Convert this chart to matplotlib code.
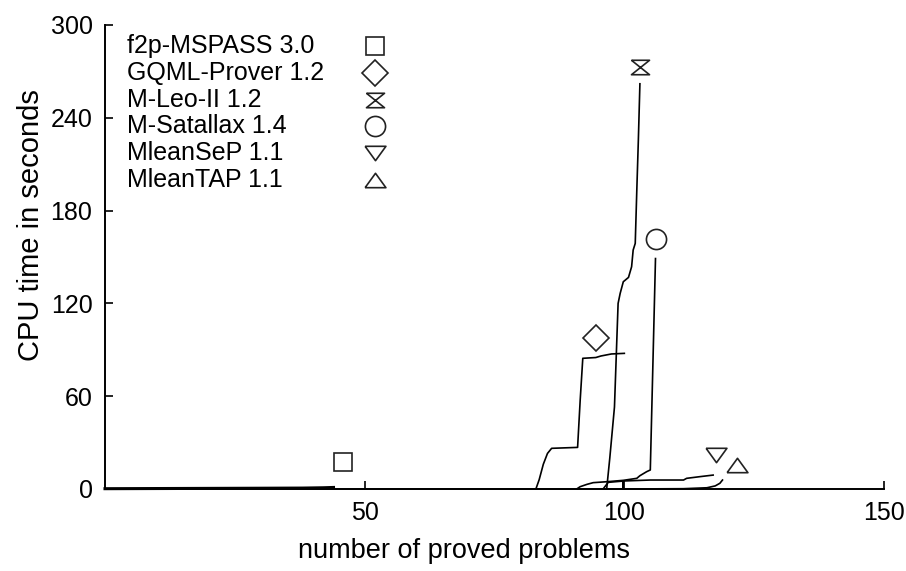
import matplotlib
matplotlib.use("Agg")
import matplotlib.pyplot as plt
import numpy as np

plt.rcParams['font.family'] = ['Liberation Sans', 'DejaVu Sans']

# Provers
nomes = ["f2p-MSPASS 3.0", "GQML-Prover 1.2", "M-Leo-II 1.2",
         "M-Satallax 1.4", "MleanSeP 1.1", "MleanTAP 1.1"]

# Curvas: numero de problemas provados x tempo de CPU
f2p_x = [0, 10, 20, 30, 38, 42, 44]
f2p_y = [0.2, 0.3, 0.4, 0.5, 0.6, 0.8, 1.0]

gqml_x = [83, 83.6, 84.4, 85.2, 86, 91, 91.5, 92, 94.5, 95.5, 97.5, 100]
gqml_y = [0.3, 6, 16, 23, 26.3, 26.9, 57.5, 84.5, 85, 86, 87.3, 87.7]

leo_x = [96.6, 97.2, 98.1, 98.8, 99.2, 99.8, 100.8, 101.4, 101.7, 102.1, 102.4, 102.7, 103.0]
leo_y = [0, 20, 53, 120, 126.5, 134, 136.8, 143.7, 154.5, 158.8, 193, 225.6, 262]

sat_x = [91, 91.5, 92.8, 94, 96.6, 99.8, 102.4, 103, 104.3, 105, 106]
sat_y = [0.4, 1.5, 3, 4.1, 4.7, 5.6, 6.9, 8.6, 11.2, 12.3, 149]

sep_x = [96, 96.9, 100, 105, 111.4, 112, 114.6, 117.1]
sep_y = [0.4, 4.3, 5.2, 5.8, 5.8, 6.9, 8, 9]

tap_x = [0, 99.8, 99.8, 99.8, 111.4, 115.9, 117.5, 118.4, 118.9]
tap_y = [0, 0, 5, 0, 0.2, 0.8, 2, 3.7, 5.8]

# Marcadores (rotulos) perto do fim de cada curva
rot_x = [45.8, 94.5, 103.0, 106.1, 117.7, 121.7]
rot_y = [17.5, 97.6, 272.8, 161.6, 22, 15.5]

curvas = [(f2p_x, f2p_y), (gqml_x, gqml_y), (leo_x, leo_y),
          (sat_x, sat_y), (sep_x, sep_y), (tap_x, tap_y)]

ampulheta = [(-1, 0.8), (1, 0.8), (-1, -0.8), (1, -0.8), (-1, 0.8)]
tri_baixo = [(-1, 0.69), (1, 0.69), (0, -0.69), (-1, 0.69)]
tri_cima = [(-1, -0.69), (1, -0.69), (0, 0.69), (-1, -0.69)]
marcadores = [("s", 13.5), ("D", 13.0), (ampulheta, 13.0),
              ("o", 14.5), (tri_baixo, 15.0), (tri_cima, 15.0)]

fig = plt.figure(figsize=(9.06, 5.71), dpi=100)
ax = fig.add_axes([105 / 906, 1 - 489 / 571, 779 / 906, 464 / 571])

for i, (cx, cy) in enumerate(curvas):
    lw = 2.2 if i == 0 else 1.2
    ax.plot(cx, cy, color="black", lw=lw, solid_joinstyle="round", clip_on=False)

for i, (m, ms) in enumerate(marcadores):
    ax.plot(rot_x[i], rot_y[i], marker=m, ms=ms, mfc="none", mec="#222222",
            mew=1.2, ls="none", clip_on=False)

# Legenda manual (texto alinhado a esquerda, marcador a direita)
for i, nome in enumerate(nomes):
    yy = (489 - (46 + i * 26.8)) / 464
    ax.text(0.028, yy, nome, transform=ax.transAxes, fontsize=18,
            va="center", ha="left")
    m, ms = marcadores[i]
    ax.plot(0.3466, yy, marker=m, ms=ms, mfc="none", mec="#222222", mew=1.2,
            transform=ax.transAxes, ls="none", clip_on=False)

ax.set_xlim(0, 150)
ax.set_ylim(0, 300)
ax.set_xticks([50, 100, 150])
ax.set_yticks([0, 60, 120, 180, 240, 300])
ax.spines["top"].set_visible(False)
ax.spines["right"].set_visible(False)
for s in ["left", "bottom"]:
    ax.spines[s].set_linewidth(1.4)
ax.tick_params(axis="both", direction="in", length=6, width=1.2, labelsize=18)
ax.tick_params(axis="x", pad=9)
ax.tick_params(axis="y", pad=9)

ax.set_xlabel("number of proved problems", fontsize=19.5)
ax.set_ylabel("CPU time in seconds", fontsize=21)
ax.xaxis.set_label_coords(0.461, -0.105)
ax.yaxis.set_label_coords(-0.077, 0.569)

fig.savefig("out.png", dpi=100)
